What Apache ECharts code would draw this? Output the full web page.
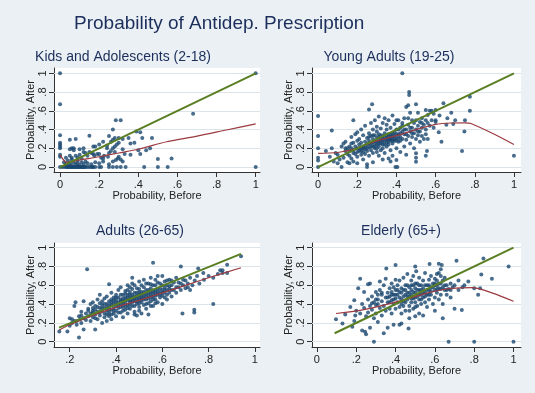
<!DOCTYPE html>
<html>
<head>
<meta charset="utf-8">
<script src="https://cdn.jsdelivr.net/npm/echarts@6/dist/echarts.min.js"></script>
<style>
  html, body { margin: 0; padding: 0; background: #eaf0f3; }
  #chart { width: 535px; height: 393px; }
</style>
</head>
<body>
<div id="chart"></div>
<script>
// tick values
const xTicks = [0, 0.2, 0.4, 0.6, 0.8, 1]
const xTicksAdults = [0.2, 0.4, 0.6, 0.8, 1]
const yTicks = [0, 0.2, 0.4, 0.6, 0.8, 1]

const panelTitles = ['Kids and Adolescents (2-18)', 'Young Adults (19-25)', 'Adults (26-65)', 'Elderly (65+)']

// [before, after] points
const kidsPts = [
  [0, 0], [0.01, 0], [0.02, 0], [0.03, 0], [0.035, 0], [0.04, 0], [0.045, 0], [0.05, 0], [0.055, 0], [0.06, 0],
  [0.065, 0], [0.07, 0], [0.075, 0], [0.08, 0], [0.085, 0], [0.09, 0], [0.095, 0], [0.1, 0], [0.105, 0], [0.11, 0],
  [0.115, 0], [0.12, 0], [0.125, 0], [0.13, 0], [0.14, 0], [0.15, 0], [0.16, 0], [0.165, 0], [0.17, 0], [0.18, 0],
  [0.2, 0], [0.21, 0], [0.25, 0], [0.27, 0], [0.29, 0], [0.31, 0], [0.335, 0], [0.43, 0], [0.5, 0], [0.55, 0], [1, 0],
  [0.03, 0.03], [0.04, 0.02], [0.05, 0.04], [0.06, 0.02], [0.07, 0.05], [0.08, 0.03], [0.09, 0.04], [0.1, 0.02],
  [0.11, 0.05], [0.12, 0.03], [0.13, 0.06], [0.14, 0.04], [0.16, 0.03], [0.18, 0.05], [0.2, 0.04], [0.22, 0.06],
  [0.25, 0.03], [0.27, 0.06], [0.285, 0.075], [0.295, 0.09], [0.32, 0.06], [0.31, 0.08], [0.04, 0.07], [0.06, 0.08],
  [0.09, 0.07], [0.02, 0.05],
  [0, 0.13], [0, 0.11], [0.03, 0.1], [0.05, 0.12], [0.06, 0.1], [0.08, 0.12], [0.09, 0.1], [0.1, 0.13], [0.11, 0.09],
  [0.12, 0.16], [0.13, 0.15], [0.14, 0.12], [0.15, 0.16], [0.16, 0.15], [0.17, 0.14], [0.175, 0.12], [0.19, 0.14],
  [0.2, 0.14], [0.21, 0.1], [0.22, 0.09], [0.225, 0.12], [0.245, 0.11], [0.25, 0.15], [0.26, 0.17], [0.28, 0.16],
  [0.24, 0.2], [0.27, 0.2], [0.3, 0.11], [0.33, 0.14], [0.36, 0.13], [0.05, 0.19], [0.06, 0.2], [0.07, 0.2],
  [0.07, 0.18], [0.1, 0.19], [0.12, 0.2], [0.41, 0.14], [0.4, 0.18], [0.44, 0.18], [0.46, 0.2], [0.5, 0.085],
  [0.57, 0.09], [0.32, 0.19],
  [0, 0.2], [0, 0.22], [0, 0.24], [0, 0.26], [0, 0.34], [0.05, 0.29], [0.08, 0.3], [0.15, 0.335], [0.17, 0.22],
  [0.18, 0.22], [0.2, 0.24], [0.22, 0.27], [0.24, 0.23], [0.26, 0.27], [0.27, 0.29], [0.28, 0.22], [0.28, 0.31],
  [0.29, 0.24], [0.3, 0.31], [0.3, 0.26], [0.27, 0.4], [0.35, 0.31], [0.36, 0.25], [0.38, 0.26], [0.39, 0.38],
  [0.41, 0.37], [0.42, 0.31], [0.47, 0.31], [0.32, 0.3], [0.25, 0.33],
  [0, 0.67], [0, 1], [0.285, 0.5], [0.31, 0.5], [0.68, 0.57], [1, 1]
]

const youngPts = [
  [0, 0.545], [0, 0.33], [0, 0.2], [0, 0.1], [0, 0.07], [0, 0], [0.04, 0.17], [0.06, 0.11], [0.07, 0.39], [0.07, 0.2],
  [0.08, 0.06], [0.09, 0.15], [0.1, 0.04], [0.1, 0.13],
  [0.11, 0.08], [0.12, 0], [0.12, 0.22], [0.13, 0.25], [0.13, 0.1], [0.14, 0.17], [0.14, 0.27], [0.15, 0.05],
  [0.15, 0.2], [0.15, 0.14], [0.16, 0.22], [0.16, 0.12], [0.16, 0.04], [0.17, 0.25], [0.17, 0.09], [0.17, 0.32],
  [0.18, 0.5], [0.18, 0.18], [0.18, 0.26], [0.18, 0.06], [0.19, 0.14], [0.19, 0.22], [0.19, 0.35], [0.2, 0.2],
  [0.2, 0.11], [0.2, 0.28], [0.2, 0.04], [0.2, 0.37],
  [0.21, 0.17], [0.21, 0.24], [0.21, 0.3], [0.22, 0.13], [0.22, 0.2], [0.22, 0.4], [0.22, 0.26], [0.23, 0.16],
  [0.23, 0.22], [0.23, 0.34], [0.23, 0.08], [0.24, 0.19], [0.24, 0.27], [0.24, 0.44], [0.24, 0.14], [0.25, 0],
  [0.25, 0.24], [0.25, 0.31], [0.25, 0.17], [0.25, 0.03], [0.26, 0.615], [0.26, 0.21], [0.26, 0.36], [0.26, 0.28],
  [0.26, 0.12], [0.27, 0.25], [0.27, 0.18], [0.27, 0.47], [0.27, 0.33], [0.276, 0.67], [0.28, 0.22], [0.28, 0.3],
  [0.28, 0.15], [0.28, 0.4], [0.28, 0.05], [0.29, 0.27], [0.29, 0.34], [0.29, 0.2], [0.29, 0.5], [0.3, 0.24],
  [0.3, 0.31], [0.3, 0.16], [0.3, 0.38], [0.3, 0.43],
  [0.31, 0.28], [0.31, 0.22], [0.31, 0.35], [0.31, 0.54], [0.31, 0.12], [0.32, 0.3], [0.32, 0.25], [0.32, 0.41],
  [0.32, 0.18], [0.33, 0.33], [0.33, 0.27], [0.33, 0.47], [0.33, 0.2], [0.33, 0.08], [0.34, 0.31], [0.34, 0.36],
  [0.34, 0.24], [0.34, 0.52], [0.34, 0.15], [0.35, 0.29], [0.35, 0.34], [0.35, 0.4], [0.35, 0.22], [0.35, 0.45],
  [0.36, 0.3], [0.36, 0.27], [0.36, 0.35], [0.36, 0.09], [0.36, 0.5], [0.37, 0.32], [0.37, 0.28], [0.37, 0.42],
  [0.37, 0.18], [0.37, 0.06], [0.38, 0.3], [0.38, 0.36], [0.38, 0.25], [0.38, 0.55], [0.38, 0.12], [0.39, 0.33],
  [0.39, 0.46], [0.39, 0.28], [0.395, 0], [0.4, 0.31], [0.4, 0.4], [0.4, 0.2], [0.4, 0.075], [0.4, 0.5],
  [0.405, 0], [0.41, 0.35], [0.41, 0.27], [0.41, 0.5], [0.42, 0.32], [0.42, 0.42], [0.42, 0.16], [0.43, 1],
  [0.43, 0.38], [0.43, 0.3], [0.43, 0.44], [0.44, 0.35], [0.44, 0.22], [0.44, 0.52], [0.45, 0.64], [0.45, 0.4],
  [0.45, 0.29], [0.45, 0.13], [0.46, 0.66], [0.46, 0.45], [0.46, 0.33], [0.46, 0.52], [0.465, 0.8], [0.465, 0.77],
  [0.47, 0.38], [0.47, 0.58], [0.47, 0.25], [0.48, 0.42], [0.48, 0.5], [0.48, 0.32], [0.49, 0.36], [0.49, 0.47],
  [0.49, 0.2], [0.5, 0.67], [0.5, 0.4], [0.5, 0.146], [0.5, 0.1], [0.5, 0.057], [0.5, 0.3], [0.5, 0.5],
  [0.51, 0.44], [0.51, 0.34], [0.51, 0.58], [0.52, 0.38], [0.52, 0.48], [0.52, 0.27], [0.53, 0.42], [0.53, 0.33],
  [0.53, 0.52], [0.54, 0.45], [0.54, 0.3], [0.55, 0.61], [0.55, 0.4], [0.55, 0.35], [0.556, 0.17], [0.55, 0.12],
  [0.56, 0.555], [0.56, 0.47], [0.56, 0.3], [0.57, 0.6], [0.57, 0.44], [0.58, 0.6], [0.58, 0.5], [0.59, 0.57],
  [0.59, 0.42], [0.6, 0.61], [0.6, 0.48],
  [0.616, 0.37], [0.62, 0.55], [0.63, 0.27], [0.64, 0.68], [0.655, 0.45], [0.66, 0.52], [0.68, 0.58], [0.69, 0.46],
  [0.7, 0.5], [0.735, 0.17], [0.747, 0.38], [0.75, 0.5], [0.775, 0.6], [0.775, 0.75], [1, 0.12],
  [0.24, 0.22], [0.25, 0.2], [0.26, 0.25], [0.27, 0.22], [0.28, 0.26], [0.29, 0.23], [0.3, 0.27], [0.3, 0.2],
  [0.31, 0.32], [0.31, 0.25], [0.32, 0.28], [0.32, 0.34], [0.33, 0.3], [0.33, 0.24], [0.34, 0.28], [0.35, 0.26],
  [0.35, 0.31], [0.36, 0.32], [0.36, 0.24], [0.37, 0.3], [0.37, 0.35], [0.38, 0.28], [0.38, 0.33], [0.39, 0.3],
  [0.39, 0.37], [0.4, 0.28], [0.4, 0.35], [0.41, 0.31], [0.41, 0.4], [0.42, 0.36], [0.42, 0.28], [0.44, 0.4],
  [0.45, 0.35], [0.47, 0.42], [0.48, 0.36], [0.2, 0.16], [0.21, 0.2], [0.22, 0.17], [0.23, 0.2], [0.18, 0.15],
  [0.17, 0.2], [0.16, 0.17], [0.14, 0.2], [0.26, 0.32], [0.28, 0.34], [0.43, 0.47], [0.51, 0.38], [0.53, 0.47],
  [0.55, 0.5], [0.6, 0.5]
]

const adultPts = [
  [0.155, 0.11], [0.19, 0.11], [0.2, 0.25], [0.21, 0.2], [0.22, 0.38], [0.225, 0.42], [0.23, 0.18], [0.23, 0.22],
  [0.24, 0.046], [0.24, 0.27], [0.245, 0.24], [0.25, 0.2], [0.25, 0.32], [0.25, 0.28], [0.21, 0.24], [0.22, 0.22],
  [0.2, 0.17],
  [0.26, 0.13], [0.26, 0.43], [0.26, 0.25], [0.27, 0.3], [0.27, 0.23], [0.275, 0.77], [0.28, 0.35], [0.28, 0.27],
  [0.28, 0.33], [0.29, 0.22], [0.29, 0.4], [0.29, 0.3], [0.3, 0.26], [0.3, 0.36], [0.3, 0.42], [0.3, 0.31],
  [0.31, 0.13], [0.31, 0.29], [0.31, 0.38], [0.31, 0.34], [0.32, 0.45], [0.32, 0.24], [0.32, 0.32], [0.33, 0.5],
  [0.33, 0.36], [0.33, 0.28], [0.33, 0.41], [0.34, 0.2], [0.34, 0.33], [0.34, 0.39], [0.34, 0.43], [0.35, 0.3],
  [0.35, 0.36], [0.35, 0.26], [0.35, 0.46],
  [0.36, 0.4], [0.36, 0.33], [0.36, 0.22], [0.36, 0.48], [0.37, 0.61], [0.37, 0.36], [0.37, 0.3], [0.37, 0.43],
  [0.37, 0.27], [0.38, 0.39], [0.38, 0.45], [0.38, 0.34], [0.38, 0.52], [0.38, 0.24], [0.39, 0.41], [0.39, 0.36],
  [0.39, 0.47], [0.39, 0.3], [0.4, 0.38], [0.4, 0.44], [0.4, 0.5], [0.4, 0.33], [0.4, 0.27], [0.41, 0.42],
  [0.41, 0.36], [0.41, 0.55], [0.41, 0.47], [0.42, 0.4], [0.42, 0.31], [0.42, 0.45], [0.42, 0.58], [0.43, 0.43],
  [0.43, 0.37], [0.43, 0.5], [0.43, 0.26], [0.44, 0.41], [0.44, 0.47], [0.44, 0.34], [0.44, 0.54], [0.45, 0.44],
  [0.45, 0.39], [0.45, 0.6], [0.45, 0.3], [0.45, 0.5],
  [0.46, 0.47], [0.46, 0.42], [0.46, 0.53], [0.46, 0.35], [0.47, 0.68], [0.47, 0.45], [0.47, 0.5], [0.47, 0.38],
  [0.47, 0.56], [0.48, 0.43], [0.48, 0.48], [0.48, 0.32], [0.48, 0.6], [0.49, 0.46], [0.49, 0.52], [0.49, 0.4],
  [0.49, 0.28], [0.5, 0.5], [0.5, 0.44], [0.5, 0.56], [0.5, 0.37], [0.5, 0.64], [0.51, 0.47], [0.51, 0.53],
  [0.51, 0.42], [0.51, 0.3], [0.52, 0.5], [0.52, 0.58], [0.52, 0.45], [0.52, 0.66], [0.53, 0.48], [0.53, 0.4],
  [0.53, 0.55], [0.53, 0.35], [0.54, 0.52], [0.54, 0.46], [0.54, 0.62], [0.54, 0.29], [0.55, 0.5], [0.55, 0.43],
  [0.55, 0.57], [0.55, 0.68],
  [0.56, 0.84], [0.56, 0.48], [0.56, 0.54], [0.56, 0.38], [0.57, 0.52], [0.57, 0.6], [0.57, 0.45], [0.57, 0.66],
  [0.58, 0.5], [0.58, 0.56], [0.58, 0.42], [0.58, 0.7], [0.59, 0.53], [0.59, 0.47], [0.59, 0.62], [0.6, 0.55],
  [0.6, 0.7], [0.6, 0.49], [0.6, 0.4], [0.61, 0.58], [0.61, 0.52], [0.61, 0.64], [0.62, 0.5], [0.62, 0.6],
  [0.62, 0.45], [0.63, 0.56], [0.63, 0.66], [0.63, 0.52], [0.64, 0.6], [0.64, 0.48], [0.65, 0.55], [0.65, 0.63],
  [0.66, 0.68], [0.66, 0.52], [0.67, 0.58], [0.67, 0.63], [0.68, 0.55], [0.68, 0.8], [0.687, 0.3], [0.69, 0.6],
  [0.7, 0.65], [0.7, 0.57], [0.71, 0.62], [0.72, 0.68], [0.72, 0.55], [0.73, 0.6], [0.738, 0.34], [0.738, 0.31],
  [0.74, 0.65], [0.75, 0.7],
  [0.755, 0.78], [0.76, 0.62], [0.777, 0.73], [0.78, 0.66], [0.8, 0.7], [0.82, 0.4], [0.82, 0.68], [0.84, 0.72],
  [0.85, 0.76], [0.86, 0.73], [0.86, 0.76], [0.88, 0.82], [0.88, 0.73], [0.94, 0.91],
  [0.3, 0.33], [0.31, 0.25], [0.32, 0.37], [0.33, 0.31], [0.34, 0.36], [0.35, 0.4], [0.36, 0.29], [0.36, 0.37],
  [0.37, 0.39], [0.37, 0.33], [0.38, 0.42], [0.38, 0.29], [0.39, 0.44], [0.39, 0.33], [0.4, 0.41], [0.4, 0.47],
  [0.41, 0.39], [0.41, 0.31], [0.42, 0.43], [0.42, 0.37], [0.42, 0.5], [0.43, 0.46], [0.43, 0.4], [0.43, 0.33],
  [0.44, 0.44], [0.44, 0.51], [0.44, 0.38], [0.45, 0.47], [0.45, 0.36], [0.45, 0.55], [0.46, 0.44], [0.46, 0.5],
  [0.46, 0.39], [0.46, 0.58], [0.47, 0.42], [0.47, 0.47], [0.47, 0.62], [0.48, 0.46], [0.48, 0.52], [0.48, 0.38],
  [0.49, 0.49], [0.49, 0.43], [0.49, 0.57], [0.5, 0.47], [0.5, 0.53], [0.5, 0.41], [0.51, 0.5], [0.51, 0.45],
  [0.51, 0.6], [0.52, 0.47], [0.52, 0.53], [0.52, 0.39], [0.53, 0.51], [0.53, 0.45], [0.53, 0.62], [0.54, 0.49],
  [0.54, 0.55], [0.54, 0.41], [0.55, 0.47], [0.55, 0.53], [0.55, 0.61], [0.56, 0.51], [0.56, 0.45], [0.56, 0.6],
  [0.57, 0.49], [0.57, 0.55], [0.57, 0.41], [0.58, 0.53], [0.58, 0.63], [0.59, 0.5], [0.59, 0.57], [0.6, 0.6],
  [0.6, 0.52], [0.61, 0.55], [0.61, 0.47], [0.62, 0.55], [0.62, 0.65], [0.63, 0.59], [0.64, 0.55], [0.64, 0.65],
  [0.66, 0.58], [0.68, 0.62], [0.69, 0.66], [0.71, 0.58], [0.5, 0.33], [0.48, 0.29], [0.55, 0.38]
]

const elderPts = [
  [0.097, 0.24], [0.13, 0.195], [0.144, 0.29], [0.17, 0.37], [0.18, 0.16], [0.19, 0.44], [0.19, 0.22], [0.195, 0.28],
  [0.2, 0.33], [0.21, 0.57], [0.22, 0.67], [0.22, 0.3], [0.23, 0.12], [0.23, 0.4], [0.24, 0.36], [0.24, 0.53],
  [0.245, 0.106], [0.25, 0.08], [0.25, 0.27],
  [0.26, 0.61], [0.26, 0.45], [0.26, 0.31], [0.27, 0.38], [0.27, 0.15], [0.27, 0.62], [0.28, 0.34], [0.28, 0.48],
  [0.29, 0], [0.29, 0.42], [0.29, 0.25], [0.3, 0.53], [0.3, 0.39], [0.3, 0.3], [0.31, 0.5], [0.31, 0.45],
  [0.31, 0.21], [0.32, 0.64], [0.32, 0.36], [0.32, 0.55], [0.33, 0.43], [0.33, 0.28], [0.33, 0.5], [0.34, 0.09],
  [0.34, 0.38], [0.34, 0.6], [0.35, 0.47], [0.35, 0.33], [0.35, 0.67],
  [0.353, 0.78], [0.36, 0.52], [0.36, 0.42], [0.36, 0.15], [0.37, 0.57], [0.37, 0.35], [0.37, 0.48], [0.38, 0.44],
  [0.38, 0.62], [0.38, 0.3], [0.38, 0.53], [0.39, 0.4], [0.39, 0.58], [0.39, 0.5], [0.39, 0.18], [0.4, 0.815],
  [0.4, 0.46], [0.4, 0.55], [0.4, 0.35], [0.4, 0.66], [0.41, 0.42], [0.41, 0.6], [0.41, 0.5], [0.42, 0.18],
  [0.42, 0.37], [0.42, 0.53], [0.42, 0.65], [0.43, 0.195], [0.43, 0.45], [0.43, 0.3], [0.43, 0.57], [0.44, 0.48],
  [0.44, 0.38], [0.44, 0.68], [0.44, 0.55], [0.45, 0.42], [0.45, 0.6], [0.45, 0.33], [0.45, 0.5],
  [0.46, 0.52], [0.46, 0.45], [0.46, 0.72], [0.466, 0.14], [0.47, 0.58], [0.47, 0.38], [0.47, 0.48], [0.47, 0.25],
  [0.48, 0.55], [0.48, 0.65], [0.48, 0.42], [0.48, 0.5], [0.49, 0.6], [0.49, 0.35], [0.49, 0.46], [0.49, 0.7],
  [0.5, 0.52], [0.5, 0.42], [0.5, 0.8], [0.5, 0.57], [0.5, 0.27], [0.505, 0.75], [0.51, 0.48], [0.51, 0.62],
  [0.51, 0.38], [0.52, 0.55], [0.52, 0.45], [0.52, 0.68], [0.52, 0.3], [0.53, 0.5], [0.53, 0.6], [0.53, 0.4],
  [0.54, 0.57], [0.54, 0.47], [0.54, 0.65], [0.54, 0.28], [0.55, 0.52], [0.55, 0.42], [0.55, 0.73],
  [0.56, 0.6], [0.56, 0.5], [0.56, 0.37], [0.57, 0.55], [0.57, 0.66], [0.573, 0.826], [0.57, 0.45], [0.58, 0.58],
  [0.58, 0.5], [0.58, 0.7], [0.59, 0.4], [0.59, 0.62], [0.6, 0.55], [0.6, 0.67], [0.6, 0.47], [0.6, 0.33],
  [0.61, 0.6], [0.61, 0.52], [0.61, 0.72], [0.62, 0.83], [0.62, 0.57], [0.62, 0.45], [0.63, 0.62], [0.63, 0.5],
  [0.63, 0.77], [0.635, 0.815], [0.64, 0.25], [0.64, 0.58], [0.64, 0.4], [0.65, 0.55], [0.65, 0.68],
  [0.66, 0.6], [0.66, 0.5], [0.67, 0], [0.67, 0.56], [0.68, 0.62], [0.68, 0.47], [0.69, 0.58], [0.7, 0.35],
  [0.7, 0.6], [0.71, 0.86], [0.72, 0.55], [0.72, 0.65], [0.737, 0.337], [0.74, 0.58], [0.75, 0.6], [0.77, 0.64],
  [0.8, 0], [0.8, 0.57], [0.82, 0.5], [0.836, 0.715], [0.83, 0.57], [0.847, 0.886], [0.89, 0.67], [0.975, 0.8], [1, 0],
  [0.36, 0.47], [0.37, 0.42], [0.38, 0.5], [0.39, 0.45], [0.4, 0.5], [0.41, 0.55], [0.42, 0.47], [0.43, 0.52],
  [0.44, 0.43], [0.45, 0.55], [0.46, 0.48], [0.46, 0.6], [0.47, 0.52], [0.48, 0.46], [0.48, 0.6], [0.49, 0.53],
  [0.5, 0.47], [0.5, 0.62], [0.51, 0.55], [0.52, 0.5], [0.52, 0.6], [0.53, 0.55], [0.53, 0.45], [0.54, 0.52],
  [0.55, 0.6], [0.55, 0.48], [0.56, 0.55], [0.57, 0.6], [0.58, 0.54], [0.59, 0.58], [0.6, 0.62], [0.6, 0.6],
  [0.61, 0.56], [0.62, 0.62], [0.63, 0.56], [0.63, 0.7], [0.64, 0.65], [0.65, 0.6], [0.33, 0.52], [0.31, 0.4],
  [0.28, 0.41], [0.3, 0.45], [0.43, 0.4], [0.47, 0.33], [0.5, 0.37], [0.57, 0.5], [0.62, 0.73], [0.66, 0.55],
  [0.68, 0.55], [0.61, 0.65]
]

// smoothed fit (red) and 45 degree line (green)
const kidsFit = [[0, 0.13], [0.02, 0.07], [0.035, 0.05], [0.1, 0.075], [0.2, 0.11], [0.3, 0.15], [0.4, 0.19], [0.545, 0.27], [0.7, 0.33], [0.85, 0.395], [1, 0.46]]
const youngFit = [[0, 0.145], [0.1, 0.155], [0.2, 0.2], [0.24, 0.235], [0.3, 0.28], [0.41, 0.34], [0.5, 0.4], [0.6, 0.455], [0.68, 0.47], [0.75, 0.472], [0.78, 0.465], [0.9, 0.35], [1, 0.24]]
const adultFit = [[0.154, 0.124], [0.2, 0.18], [0.3, 0.28], [0.4, 0.365], [0.5, 0.44], [0.6, 0.52], [0.7, 0.6], [0.8, 0.68], [0.94, 0.787]]
const elderFit = [[0.097, 0.3], [0.245, 0.345], [0.415, 0.43], [0.585, 0.53], [0.686, 0.567], [0.79, 0.575], [0.89, 0.52], [1, 0.43]]

const kidsDiag = [[0, 0], [1, 1]]
const youngDiag = [[0, 0], [1, 1]]
const adultDiag = [[0.154, 0.15], [0.94, 0.935]]
const elderDiag = [[0.09, 0.09], [1, 1]]

let font = "'Liberation Sans', Arial, Helvetica, sans-serif"
let navy = '#1a476f'
let tickFmt = function (v) {
  if (v === 0) return '0'
  if (v === 1) return '1'
  return String(+v.toFixed(1)).replace(/^0/, '')
}

let grids = [
  {left: 54, top: 68, width: 206, height: 104},
  {left: 312, top: 68, width: 209, height: 104},
  {left: 54, top: 243, width: 206, height: 104},
  {left: 312, top: 243, width: 209, height: 104}
]
let xRanges = [[-0.031, 1.022], [-0.031, 1.036], [0.132, 1.022], [-0.025, 1.038]]
let yRanges = [[-0.053, 1.057], [-0.053, 1.057], [-0.056, 1.05], [-0.056, 1.05]]
let titlePos = [[123, 57.5], [389, 57.5], [140, 231], [401, 231]]
let pts = [kidsPts, youngPts, adultPts, elderPts]
let fits = [kidsFit, youngFit, adultFit, elderFit]
let diags = [kidsDiag, youngDiag, adultDiag, elderDiag]

let axisCommon = {
  axisLine: {show: true, onZero: false, lineStyle: {color: '#333', width: 1}},
  axisTick: {show: true, length: 5, lineStyle: {color: '#333'}},
  nameTextStyle: {color: '#222', fontSize: 11, fontFamily: font}
}

let option = {
  backgroundColor: '#eaf0f3',
  animation: false,
  grid: grids.map(g => Object.assign({show: true, backgroundColor: '#fff', borderWidth: 0}, g)),
  xAxis: grids.map((g, i) => {
    let ticks = i === 2 ? xTicksAdults : xTicks
    return Object.assign({}, axisCommon, {
      type: 'value',
      gridIndex: i,
      min: xRanges[i][0],
      max: xRanges[i][1],
      name: 'Probability, Before',
      nameLocation: 'middle',
      nameGap: 18,
      axisTick: Object.assign({}, axisCommon.axisTick, {customValues: ticks}),
      axisLabel: {customValues: ticks, formatter: tickFmt, color: '#222', fontSize: 11, fontFamily: font, margin: 7},
      splitLine: {show: false}
    })
  }),
  yAxis: grids.map((g, i) => Object.assign({}, axisCommon, {
    type: 'value',
    gridIndex: i,
    min: yRanges[i][0],
    max: yRanges[i][1],
    name: 'Probability, After',
    nameLocation: 'middle',
    nameGap: 18,
    axisTick: Object.assign({}, axisCommon.axisTick, {customValues: yTicks}),
    axisLabel: {customValues: yTicks, formatter: tickFmt, rotate: 90, color: '#222', fontSize: 11, fontFamily: font, margin: 6},
    splitLine: {show: false}
  })),
  graphic: [
    {
      type: 'text', left: 74, top: 14,
      style: {text: 'Probability of Antidep. Prescription', fill: '#1c2e5c', font: '19px ' + font}
    }
  ].concat(panelTitles.map((t, i) => ({
    type: 'text', x: titlePos[i][0], y: titlePos[i][1],
    style: {text: t, fill: '#1c2e5c', font: '14px ' + font, textAlign: 'center', textVerticalAlign: 'middle'}
  }))),
  series: []
}

pts.forEach((p, i) => {
  // horizontal grid lines at the y ticks, kept under the points
  option.series.push({
    type: 'line', xAxisIndex: i, yAxisIndex: i, data: [], z: 1,
    markLine: {
      z: 1, silent: true, symbol: 'none', animation: false,
      label: {show: false},
      lineStyle: {color: '#dbe4e8', width: 1, type: 'solid'},
      data: yTicks.map(v => ({yAxis: v}))
    }
  })
  option.series.push({
    type: 'scatter', xAxisIndex: i, yAxisIndex: i, data: p,
    symbol: 'circle', symbolSize: 4, itemStyle: {color: navy}, z: 2
  })
  option.series.push({
    type: 'line', xAxisIndex: i, yAxisIndex: i, data: fits[i], smooth: 0.3,
    showSymbol: false, lineStyle: {color: '#9b3a3f', width: 1.2}, z: 3
  })
  option.series.push({
    type: 'line', xAxisIndex: i, yAxisIndex: i, data: diags[i],
    showSymbol: false, lineStyle: {color: '#5a7f23', width: 2}, z: 4
  })
})

let myChart = echarts.init(document.getElementById('chart'), null, {renderer: 'canvas'})
myChart.setOption(option)
</script>
</body>
</html>
